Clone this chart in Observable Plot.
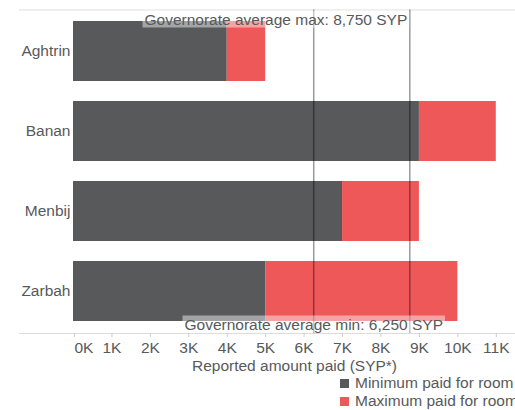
<!DOCTYPE html>
<html>
<head>
<meta charset="utf-8">
<script src="https://cdn.jsdelivr.net/npm/d3@7"></script>
<script src="https://cdn.jsdelivr.net/npm/@observablehq/plot@0.6"></script>
<style>
  body { margin: 0; background: #fff; font-family: "Liberation Sans", Arial, sans-serif; }
  #chart svg { display: block; overflow: visible; }
  .legend { margin-left: 340px; width: 175px; overflow: hidden; white-space: nowrap; font-size: 15.5px; color: #58595b; }
  .legend div { height: 18px; line-height: 18px; display: flex; align-items: center; }
  .legend span.sw { display: inline-block; width: 9px; height: 9px; margin-right: 6px; flex: none; }
</style>
</head>
<body>
<div id="chart"></div>
<script>
const categories = ["Aghtrin", "Banan", "Menbij", "Zarbah"];
const minPaid = [4000, 9000, 7000, 5000];
const maxPaid = [5000, 11000, 9000, 10000];
const seriesNames = ["Minimum paid for room", "Maximum paid for room"];
const seriesColors = ["#58595b", "#ee5859"];
const avgMax = 8750;
const avgMin = 6250;
const xTicks = [0, 1000, 2000, 3000, 4000, 5000, 6000, 7000, 8000, 9000, 10000, 11000];

const rows = categories.map((c, i) => ({category: c, min: minPaid[i], max: maxPaid[i]}));
const fmt = d3.format(",");
const textColor = "#58595b";

const plot = Plot.plot({
  width: 515,
  height: 374,
  marginLeft: 73,
  marginRight: 0,
  marginTop: 9.5,
  marginBottom: 41,
  style: {fontFamily: "'Liberation Sans', Arial, sans-serif", fontSize: "15.5px", color: textColor, background: "#fff"},
  x: {domain: [0, 11500]},
  y: {domain: categories, paddingInner: 0.25, paddingOuter: 0.125},
  marks: [
    Plot.frame({anchor: "top", stroke: "#ddd", insetLeft: -54}),
    Plot.frame({anchor: "bottom", stroke: "#ddd", insetLeft: -54}),
    Plot.barX(rows, {y: "category", x1: 0, x2: "min", fill: seriesColors[0]}),
    Plot.barX(rows, {y: "category", x1: "min", x2: "max", fill: seriesColors[1]}),
    Plot.ruleX([avgMin, avgMax], {stroke: "#000", strokeOpacity: 0.4, strokeWidth: 1.5}),
    Plot.axisY({tickSize: 0, tickPadding: 3, label: null, fontSize: 15.5}),
    Plot.axisX({ticks: xTicks.slice(1), tickSize: 4, tickPadding: 4.5, stroke: "#ccc",
      tickFormat: d => d / 1000 + "K", label: "Reported amount paid (SYP*)", labelAnchor: "center",
      labelArrow: "none", labelOffset: 37, fontSize: 15.5}),
    Plot.axisX({ticks: [xTicks[0]], tickSize: 4, tickPadding: 4.5, stroke: "#ccc", textAnchor: "start", dx: 1,
      tickFormat: d => d / 1000 + "K", label: null, fontSize: 15.5}),
    Plot.text([avgMax], {x: d => d, frameAnchor: "top", lineAnchor: "top", textAnchor: "end", dy: 3.5, dx: -2.5,
      text: d => `Governorate average max: ${fmt(d)} SYP`, fill: textColor, fontSize: 15.5, className: "avg-label"}),
    Plot.text([avgMin], {x: d => d, frameAnchor: "bottom", lineAnchor: "top", textAnchor: "middle", dy: -15,
      text: d => `Governorate average min: ${fmt(d)} SYP`, fill: textColor, fontSize: 15.5, className: "avg-label"})
  ]
});

const host = document.getElementById("chart");
host.appendChild(plot);

// semi-transparent white box behind the average labels
plot.querySelectorAll(".avg-label text").forEach(t => {
  const b = t.getBBox();
  const r = document.createElementNS("http://www.w3.org/2000/svg", "rect");
  r.setAttribute("x", b.x - 2);
  r.setAttribute("y", b.y);
  r.setAttribute("width", b.width + 4);
  r.setAttribute("height", b.height);
  r.setAttribute("fill", "#fff");
  r.setAttribute("fill-opacity", 0.45);
  const tr = t.getAttribute("transform");
  if (tr) r.setAttribute("transform", tr);
  t.parentNode.insertBefore(r, t);
});

const legend = document.createElement("div");
legend.className = "legend";
seriesNames.forEach((n, i) => {
  const row = document.createElement("div");
  const sw = document.createElement("span");
  sw.className = "sw";
  sw.style.background = seriesColors[i];
  row.appendChild(sw);
  row.appendChild(document.createTextNode(n));
  legend.appendChild(row);
});
host.appendChild(legend);
</script>
</body>
</html>
